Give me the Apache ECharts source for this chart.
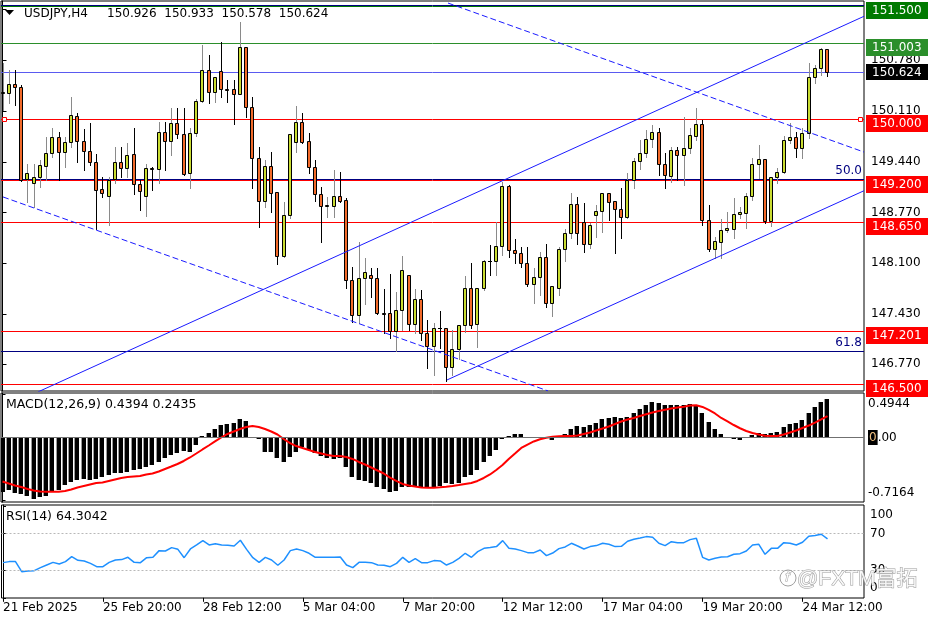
<!DOCTYPE html>
<html><head><meta charset="utf-8">
<script src="https://cdn.jsdelivr.net/npm/echarts@6/dist/echarts.min.js"></script>
<style>html,body{margin:0;padding:0;background:#fff}#c{width:936px;height:624px}</style>
</head><body><div id="c"></div>
<script>
// ---------------- data ----------------
const symbolName = 'USDJPY,H4';
const barOpen = [150.350,150.345,150.463,150.424,149.212,149.164,149.235,149.388,149.552,149.763,149.573,149.705,150.045,149.714,149.586,149.433,149.076,148.988,149.212,149.433,149.354,149.539,149.146,148.988,149.358,149.341,149.829,149.718,149.956,149.807,149.288,149.824,150.247,150.652,150.358,150.639,150.401,150.397,150.335,150.952,150.167,149.486,148.926,149.384,149.037,148.199,148.737,149.697,149.961,149.714,149.367,149.010,148.860,148.860,148.988,148.935,147.878,147.416,147.901,147.940,147.901,147.438,147.438,147.204,147.482,147.940,147.293,147.627,147.174,147.010,147.248,147.248,146.733,146.963,147.284,147.769,147.293,147.769,148.129,148.129,148.331,149.124,148.274,148.231,148.099,147.825,147.914,148.186,147.570,147.769,148.284,148.495,148.878,148.648,148.350,148.737,148.794,149.031,148.922,148.812,148.714,149.199,149.450,149.552,149.737,149.829,149.407,149.256,149.595,149.529,149.618,149.780,149.935,148.671,148.284,148.384,148.539,148.552,148.746,148.759,148.988,149.407,149.473,148.662,149.235,149.309,149.728,149.763,149.618,149.824,150.564,150.683,150.926];
const barHigh = [150.745,150.652,150.652,150.450,149.404,149.407,149.463,149.771,149.882,149.829,149.771,150.300,150.088,149.869,149.948,149.539,149.243,149.243,149.639,149.639,149.684,149.882,149.199,149.407,149.375,149.969,149.969,150.154,150.146,150.146,149.882,150.265,150.983,150.850,150.564,151.018,150.520,150.520,151.290,150.952,150.300,149.639,149.463,149.573,149.037,148.913,149.803,150.177,150.088,149.816,149.463,149.111,148.979,149.331,149.301,148.957,148.054,148.376,148.165,148.033,148.033,147.755,147.953,147.724,148.195,147.945,147.755,147.746,147.350,147.306,147.469,147.250,147.218,147.284,147.931,148.107,147.769,148.142,148.341,148.648,149.177,149.133,148.416,148.318,148.318,148.041,148.252,148.350,147.803,148.318,148.548,149.024,148.979,148.891,148.627,148.869,149.031,149.031,148.922,149.090,149.288,149.486,149.728,149.860,149.926,149.890,149.552,149.639,149.639,150.035,149.890,150.146,149.992,148.869,148.450,148.680,148.780,148.957,148.847,149.024,149.486,149.662,149.473,149.243,149.362,149.780,149.948,149.837,149.882,150.749,150.718,150.939,150.933];
const barLow = [150.124,150.216,150.190,149.186,148.909,148.847,149.111,149.199,149.507,149.199,149.375,149.639,149.441,149.331,149.397,148.548,148.979,148.605,149.164,149.243,149.243,149.010,148.803,148.728,149.067,149.164,149.331,149.529,149.754,149.265,149.090,149.780,150.234,150.220,150.234,150.300,150.234,149.939,150.335,150.035,149.090,148.582,148.839,148.780,148.090,148.178,148.693,149.573,149.684,149.288,148.926,148.376,148.714,148.706,148.910,147.769,147.327,147.306,147.561,147.650,147.425,147.174,147.108,146.944,147.218,147.218,147.174,147.086,146.712,146.623,146.976,146.544,146.623,146.831,147.195,147.240,146.997,147.746,147.944,147.944,148.208,148.186,148.099,148.054,147.799,147.570,147.680,147.526,147.403,147.680,148.133,148.429,148.350,148.252,148.297,148.450,148.516,148.671,148.231,148.429,148.693,149.090,149.341,149.507,149.639,149.265,149.090,149.177,149.199,149.133,149.552,149.728,148.605,148.265,148.165,148.165,148.516,148.429,148.693,148.561,148.935,149.222,148.627,148.592,149.156,149.288,149.684,149.507,149.486,149.750,150.477,150.586,150.578];
const barClose = [150.360,150.463,150.424,149.199,149.298,149.235,149.397,149.552,149.763,149.573,149.697,150.058,149.714,149.586,149.433,149.067,149.024,149.199,149.433,149.354,149.529,149.146,149.058,149.354,149.338,149.829,149.718,149.956,149.807,149.278,149.824,150.247,150.652,150.358,150.564,150.397,150.394,150.335,150.952,150.167,149.486,148.926,149.384,149.031,148.199,148.737,149.803,149.961,149.705,149.367,149.010,148.856,148.865,148.988,148.926,147.878,147.416,147.901,147.980,147.901,147.438,147.433,147.204,147.482,148.010,147.293,147.627,147.174,147.010,147.248,147.245,146.733,146.963,147.284,147.769,147.284,147.769,148.129,148.125,148.331,149.124,148.274,148.231,148.099,147.825,147.914,148.186,147.570,147.803,148.284,148.495,148.878,148.495,148.350,148.605,148.794,149.031,148.913,148.812,148.714,149.199,149.450,149.552,149.737,149.829,149.407,149.265,149.595,149.529,149.618,149.794,149.935,148.671,148.284,148.393,148.539,148.561,148.746,148.773,148.988,149.407,149.473,148.662,149.235,149.309,149.728,149.763,149.618,149.824,150.564,150.683,150.926,150.624];
const macdMain = [-0.616,-0.597,-0.634,-0.642,-0.665,-0.700,-0.673,-0.665,-0.616,-0.597,-0.540,-0.502,-0.483,-0.475,-0.483,-0.475,-0.452,-0.426,-0.407,-0.400,-0.389,-0.369,-0.358,-0.339,-0.313,-0.275,-0.236,-0.199,-0.180,-0.153,-0.161,-0.085,0.020,0.055,0.093,0.142,0.150,0.161,0.207,0.188,0.010,-0.020,-0.161,-0.165,-0.236,-0.275,-0.218,-0.161,-0.111,-0.142,-0.180,-0.210,-0.236,-0.248,-0.236,-0.339,-0.452,-0.483,-0.491,-0.514,-0.559,-0.589,-0.616,-0.605,-0.566,-0.559,-0.566,-0.570,-0.566,-0.559,-0.548,-0.520,-0.528,-0.520,-0.452,-0.426,-0.369,-0.275,-0.210,-0.142,-0.020,0.020,0.040,0.036,0.009,0.002,0.009,-0.005,-0.028,-0.005,0.040,0.093,0.131,0.123,0.145,0.161,0.207,0.225,0.236,0.218,0.236,0.282,0.324,0.369,0.407,0.389,0.369,0.369,0.369,0.369,0.377,0.369,0.282,0.173,0.093,0.040,0.003,-0.020,-0.028,-0.009,0.028,0.048,0.040,0.048,0.066,0.116,0.150,0.161,0.199,0.275,0.350,0.400,0.4394];
const macdSignal = [-0.500,-0.523,-0.545,-0.563,-0.585,-0.602,-0.614,-0.616,-0.616,-0.616,-0.608,-0.591,-0.568,-0.551,-0.534,-0.517,-0.511,-0.494,-0.477,-0.460,-0.449,-0.443,-0.438,-0.420,-0.409,-0.386,-0.358,-0.330,-0.301,-0.267,-0.227,-0.182,-0.136,-0.091,-0.045,0.000,0.040,0.068,0.097,0.119,0.131,0.119,0.097,0.068,0.034,-0.017,-0.063,-0.097,-0.119,-0.142,-0.165,-0.182,-0.199,-0.210,-0.210,-0.222,-0.244,-0.278,-0.307,-0.341,-0.375,-0.409,-0.455,-0.494,-0.528,-0.545,-0.557,-0.568,-0.570,-0.570,-0.566,-0.559,-0.551,-0.540,-0.528,-0.517,-0.494,-0.460,-0.420,-0.369,-0.313,-0.244,-0.182,-0.119,-0.080,-0.045,-0.020,-0.003,0.009,0.014,0.017,0.017,0.023,0.040,0.057,0.080,0.102,0.125,0.153,0.182,0.205,0.222,0.244,0.264,0.284,0.301,0.316,0.330,0.341,0.350,0.364,0.366,0.347,0.313,0.273,0.222,0.182,0.142,0.105,0.074,0.051,0.034,0.020,0.017,0.017,0.034,0.057,0.080,0.108,0.136,0.170,0.205,0.2435];
const rsiValues = [38.4,39.5,39.5,28.5,29.3,29.6,32.9,35.8,38.7,36.9,39.5,44.9,40.9,40.2,37.6,34.0,34.0,38.7,41.3,41.7,44.2,38.7,38.4,43.8,44.2,51.5,51.1,54.8,52.9,43.8,53.3,57.7,62.4,57.7,59.1,57.7,57.3,56.6,62.8,52.9,43.8,38.7,44.2,41.3,35.5,41.3,51.5,53.3,51.5,48.6,44.2,44.2,44.2,44.2,44.6,35.8,32.9,38.7,38.7,38.4,35.8,35.5,34.0,37.6,44.2,38.7,42.7,38.4,38.4,40.6,40.2,35.8,38.7,43.1,48.6,44.2,50.4,54.0,54.8,55.9,62.4,54.0,53.3,51.5,49.3,49.3,52.2,46.0,48.9,53.7,55.5,59.5,56.6,53.3,55.9,57.0,59.5,58.4,55.9,56.2,61.7,63.9,65.3,66.8,66.1,59.5,57.0,61.3,60.2,60.2,63.5,65.0,44.2,41.3,43.1,44.6,44.9,47.5,48.2,51.1,57.7,58.4,47.5,54.0,54.0,60.2,59.5,57.7,60.6,67.2,67.9,69.4,64.3042];
const timeTickBars = [0,16,32,48,64,80,96,112,128];
const timeTickLabels = ['21 Feb 2025','25 Feb 20:00','28 Feb 12:00','5 Mar 04:00','7 Mar 20:00','12 Mar 12:00','17 Mar 04:00','19 Mar 20:00','24 Mar 12:00'];
const priceTicks = [151.45,150.78,150.11,149.44,148.77,148.10,147.43,146.77];
const priceLevels = [151.500,151.003,150.000,149.200,148.650,147.201,146.500];
const bidPrice = 150.624;
const fibNames = ['38.2','50.0','61.8'];
const fibPrices = [151.513,149.213,146.940];
const trendLines = [
  [[5.68,146.399],[137.84,151.362]],
  [[71.12,146.557],[137.84,149.057]],
  [[71.28,151.537],[137.84,149.568]],
  [[0.08,148.975],[87.28,146.412]]
];
const macdTicks = [0.4944,0,-0.7164];
const rsiTicks = [100,70,30,0];
const rsiLevels = [70,30];
const selectedLevel = 150.000;

// ---------------- layout / style ----------------
const X_MIN = -0.24, X_MAX = 137.84;
const FONT = '"DejaVu Sans", Verdana, sans-serif';
const BULL = '#c9dc32', BEAR = '#f26a2a';
const levelColors = ['#007a00','#2b8f2b','#ff0000','#ff0000','#ff0000','#ff0000','#ff0000'];
const N = barOpen.length;
const idx = Array.from({length:N}, (_, i) => i);

const candleData = idx.map(i => [i, barOpen[i], barClose[i], barLow[i], barHigh[i]]);

function renderCandle(params, api) {
  const i = api.value(0), o = api.value(1), c = api.value(2), l = api.value(3), h = api.value(4);
  const pO = api.coord([i, o]), pC = api.coord([i, c]), pL = api.coord([i, l]), pH = api.coord([i, h]);
  const cx = Math.round(pO[0]);
  const up = c >= o;
  const top = Math.round(Math.min(pO[1], pC[1])) + 0.5;
  const bot = Math.round(Math.max(pO[1], pC[1])) + 0.5;
  const ch = [{type:'line', shape:{x1:cx+0.5, y1:Math.round(pH[1]), x2:cx+0.5, y2:Math.round(pL[1])+1},
               style:{stroke: up ? '#8a8a8a' : '#000', lineWidth:1}}];
  if (bot - top < 1) {
    ch.push({type:'line', shape:{x1:cx-2, y1:top, x2:cx+2, y2:top}, style:{stroke:'#000', lineWidth:1}});
  } else {
    ch.push({type:'rect', shape:{x:cx-1.5, y:top, width:3, height:bot-top},
             style:{fill: up ? BULL : BEAR, stroke:'#000', lineWidth:1}});
  }
  return {type:'group', children:ch};
}

function renderHist(params, api) {
  const i = api.value(0), v = api.value(1);
  const p0 = api.coord([i, 0]), p1 = api.coord([i, v]);
  const cx = Math.round(p0[0]);
  const y0 = Math.round(p0[1]), y1 = Math.round(p1[1]);
  const top = Math.min(y0, y1), h = Math.max(1, Math.abs(y1 - y0));
  return {type:'group', children:[
    {type:'rect', shape:{x:cx-3, y:top, width:1, height:h}, style:{fill:'#9a9a9a'}},
    {type:'rect', shape:{x:cx-2, y:top, width:4, height:h}, style:{fill:'#000'}}
  ]};
}

// all horizontal object lines in the main window
const hLines = [];
priceLevels.forEach((p, k) => hLines.push({p, color: levelColors[k]}));
hLines.push({p: bidPrice, color:'#5a5af0'});
fibPrices.forEach(p => hLines.push({p, color:'#000080'}));

const series = [
  { // horizontal lines
    type:'custom', xAxisIndex:0, yAxisIndex:0, z:1, silent:true, clip:true,
    data: hLines.map(d => [X_MAX, d.p]),
    renderItem(params, api) {
      const p = api.value(1);
      const a = api.coord([X_MIN, p]), b = api.coord([X_MAX, p]);
      const y = Math.round(a[1]) + 0.5;
      const ch = [{type:'line', shape:{x1:a[0], y1:y, x2:b[0], y2:y}, style:{stroke: hLines[params.dataIndex].color, lineWidth:1}}];
      if (p === selectedLevel) {
        ch.push({type:'rect', shape:{x:Math.round(a[0])+1.5, y:y-2, width:4, height:4}, style:{fill:'#fff', stroke:'#ff0000', lineWidth:1}});
        ch.push({type:'rect', shape:{x:Math.round(b[0])-5.5, y:y-2, width:4, height:4}, style:{fill:'#fff', stroke:'#ff0000', lineWidth:1}});
      }
      return {type:'group', children:ch};
    }
  },
  { // candles
    type:'custom', xAxisIndex:0, yAxisIndex:0, z:3, silent:true, clip:true,
    encode:{x:0, y:[1,2,3,4]}, data: candleData, renderItem: renderCandle
  }
];
trendLines.forEach((seg, k) => series.push({
  type:'line', xAxisIndex:0, yAxisIndex:0, z:4, silent:true, clip:true, showSymbol:false, symbol:'none',
  data: seg, lineStyle:{color:'#1a1aff', width:1, type: k >= 2 ? [6,3] : 'solid'}
}));
series.push({ // fib labels
  type:'custom', xAxisIndex:0, yAxisIndex:0, z:5, silent:true, clip:false,
  data: fibPrices.map(p => [X_MAX, p]),
  renderItem(params, api) {
    const pt = api.coord([X_MAX, api.value(1)]);
    return {type:'text', style:{x: pt[0]-2, y: Math.round(pt[1])-2, text: fibNames[params.dataIndex],
      fill:'#000080', font:'12px ' + FONT, align:'right', verticalAlign:'bottom'}};
  }
});
series.push({ // price tags on the axis
  type:'custom', xAxisIndex:0, yAxisIndex:0, z:10, silent:true, clip:false,
  data: priceLevels.map(p => [X_MAX, p]).concat([[X_MAX, bidPrice]]),
  renderItem(params, api) {
    const k = params.dataIndex;
    const p = api.value(1);
    const pt = api.coord([X_MAX, p]);
    const y = Math.round(pt[1]);
    const isBid = k === priceLevels.length;
    const h = isBid ? 16 : 17;
    const top = isBid ? y - 8 : y - 4;
    return {type:'group', children:[
      {type:'rect', shape:{x: Math.round(pt[0]) + 2, y: top, width:62, height:h}, style:{fill: isBid ? '#000' : levelColors[k]}},
      {type:'text', style:{x: Math.round(pt[0]) + 8, y: top + h/2 + 0.5, text: p.toFixed(3), fill:'#fff',
        font:'12px ' + FONT, align:'left', verticalAlign:'middle'}}
    ]};
  }
});
// MACD
series.push({
  type:'custom', xAxisIndex:1, yAxisIndex:1, z:2, silent:true, clip:true,
  encode:{x:0, y:1}, data: idx.map(i => [i, macdMain[i]]), renderItem: renderHist
});
series.push({
  type:'line', xAxisIndex:1, yAxisIndex:1, z:3, silent:true, showSymbol:false, symbol:'none',
  data: idx.map(i => [i, macdSignal[i]]), lineStyle:{color:'#ff0000', width:2},
  markLine:{silent:true, symbol:'none', label:{show:false}, animation:false,
    lineStyle:{color:'#707070', width:1, type:'solid'}, data:[{yAxis:0}]}
});
// RSI
series.push({
  type:'line', xAxisIndex:2, yAxisIndex:2, z:3, silent:true, showSymbol:false, symbol:'none',
  data: idx.map(i => [i, rsiValues[i]]), lineStyle:{color:'#1e90ff', width:1.5},
  markLine:{silent:true, symbol:'none', label:{show:false}, animation:false,
    lineStyle:{color:'#b8b8b8', width:1, type:[2,2]}, data: rsiLevels.map(v => ({yAxis:v}))}
});

const gridBase = {left:1, width:863, show:true, borderColor:'#000', borderWidth:1, backgroundColor:'#fff'};
const xBase = {type:'value', min:X_MIN, max:X_MAX, axisLine:{show:false}, axisTick:{show:false},
  axisLabel:{show:false}, splitLine:{show:false}};
const yLabelStyle = {color:'#000', fontFamily:FONT, fontSize:12};

const option = {
  animation:false,
  backgroundColor:'#fff',
  grid:[
    Object.assign({top:1, height:390}, gridBase),
    Object.assign({top:393, height:109}, gridBase),
    Object.assign({top:505, height:93}, gridBase)
  ],
  xAxis:[
    Object.assign({gridIndex:0}, xBase),
    Object.assign({gridIndex:1}, xBase),
    Object.assign({}, xBase, {gridIndex:2,
      axisTick:{show:true, customValues: timeTickBars, length:4, lineStyle:{color:'#000'}},
      axisLabel:{show:true, customValues: timeTickBars, align:'left', margin:4, color:'#000', fontFamily:FONT, fontSize:12,
        formatter: v => timeTickLabels[timeTickBars.indexOf(Math.round(v))] || ''}})
  ],
  yAxis:[
    {gridIndex:0, type:'value', position:'right', min:146.411, max:151.564, splitLine:{show:false},
     axisLine:{show:true, lineStyle:{color:'#000'}},
     axisTick:{show:true, customValues: priceTicks, length:4, lineStyle:{color:'#000'}},
     axisLabel:Object.assign({customValues: priceTicks, margin:7, formatter: v => v.toFixed(3)}, yLabelStyle)},
    {gridIndex:1, type:'value', position:'right', min:-0.733, max:0.5057, splitLine:{show:false},
     axisLine:{show:true, lineStyle:{color:'#000'}},
     axisTick:{show:true, customValues: macdTicks, length:3, lineStyle:{color:'#000'}},
     axisLabel:Object.assign({customValues: macdTicks, margin:4,
       formatter: v => v === 0 ? '{k|0}.00' : (v > 0 ? '{t|' + v.toFixed(4) + '}' : '{b|' + v.toFixed(4) + '}'),
       rich:{
         t:{padding:[20,0,0,0], fontFamily:FONT, fontSize:12, color:'#000'},
         b:{padding:[0,0,16,0], fontFamily:FONT, fontSize:12, color:'#000'},
         k:{backgroundColor:'#000', color:'#f0c080', padding:[2,1,1,1], fontFamily:FONT, fontSize:12}
       }}, yLabelStyle)},
    {gridIndex:2, type:'value', position:'right', min:-0.2, max:101.3, splitLine:{show:false},
     axisLine:{show:true, lineStyle:{color:'#000'}},
     axisTick:{show:true, customValues: rsiTicks, length:3, lineStyle:{color:'#000'}},
     axisLabel:Object.assign({customValues: rsiTicks, margin:6,
       formatter: v => v === 100 ? '{t|100}' : (v === 0 ? '{b|0}' : String(v)),
       rich:{
         t:{padding:[17,0,0,0], fontFamily:FONT, fontSize:12, color:'#000'},
         b:{padding:[0,0,19,0], fontFamily:FONT, fontSize:12, color:'#000'}
       }}, yLabelStyle)}
  ],
  graphic:[
    {type:'polygon', shape:{points:[[5,10],[14,10],[9.5,15]]}, style:{fill:'#000'}, z:20},
    {type:'text', x:24, y:14, z:20, style:{text: symbolName, font:'12px ' + FONT, fill:'#000', verticalAlign:'middle'}},
    {type:'text', x:107, y:14, z:20, style:{text: [barOpen[N-1], barHigh[N-1], barLow[N-1], barClose[N-1]].map(v => v.toFixed(3)).join('  '),
      font:'12px ' + FONT, fill:'#000', verticalAlign:'middle'}},
    {type:'text', x:6, y:405, z:20, style:{text:'MACD(12,26,9) ' + macdMain[N-1].toFixed(4) + ' ' + macdSignal[N-1].toFixed(4),
      font:'12.5px ' + FONT, fill:'#000', verticalAlign:'middle'}},
    {type:'text', x:6, y:517, z:20, style:{text:'RSI(14) ' + rsiValues[N-1].toFixed(4),
      font:'12.5px ' + FONT, fill:'#000', verticalAlign:'middle'}},
    {type:'circle', shape:{cx:788, cy:578, r:8}, style:{fill:'none', stroke:'#a0a0a0', lineWidth:1}, z:30},
    {type:'text', x:785, y:578, z:30, style:{text:'f', font:'italic 13px ' + FONT, fill:'#fff', stroke:'#a0a0a0', lineWidth:1, verticalAlign:'middle'}},
    {type:'text', x:797, y:579, z:30, style:{text:'@FXTM富拓', font:'21px "Liberation Sans", "Noto Sans CJK SC", sans-serif',
      fill:'rgba(255,255,255,0.85)', stroke:'#9a9a9a', lineWidth:1, verticalAlign:'middle'}}
  ],
  series
};
const chart = echarts.init(document.getElementById('c'), null, {renderer:'canvas', width:936, height:624});
chart.setOption(option);
</script>
</body></html>
